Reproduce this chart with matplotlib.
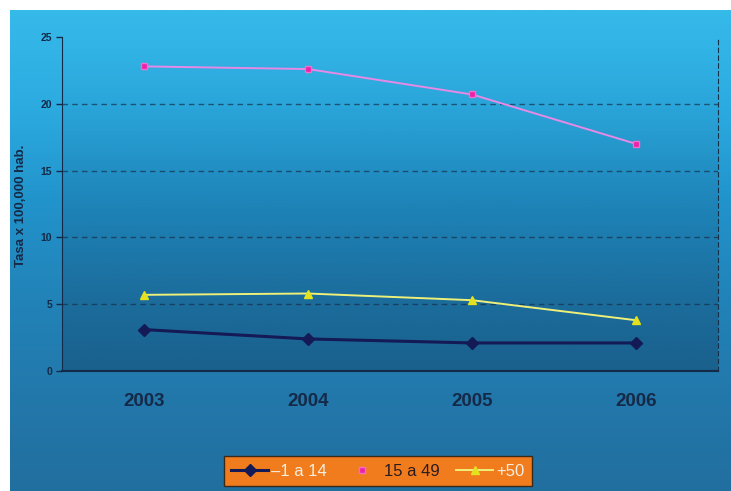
import matplotlib.pyplot as plt
import numpy as np
from matplotlib.colors import LinearSegmentedColormap, to_rgb
from matplotlib.lines import Line2D

years = ['2003', '2004', '2005', '2006']
menores_14 = [3.1, 2.4, 2.1, 2.1]
de_15_a_49 = [22.8, 22.6, 20.7, 17.0]
mayores_50 = [5.7, 5.8, 5.3, 3.8]

plt.rcParams['font.family'] = ['Liberation Sans', 'DejaVu Sans']

W, H = 731, 491
fig = plt.figure(figsize=(W / 100, H / 100), dpi=100)
fig.patch.set_facecolor('white')

# background panel with a vertical blue gradient
bg = fig.add_axes([10 / W, 0, 1 - 10 / W, 1 - 10 / H], zorder=0)
bg_cmap = LinearSegmentedColormap.from_list(
    'bg', ['#36baea', '#2cabe0', '#2193cb', '#2183b8', '#2378ab', '#216f9f'])
grad = np.linspace(0, 1, 256).reshape(-1, 1)
bg.imshow(grad, aspect='auto', cmap=bg_cmap, extent=[0, 1, 0, 1], origin='upper')
bg.set_axis_off()

ax = fig.add_axes([62 / W, 1 - 371 / H, (718 - 62) / W, (371 - 37) / H], zorder=1)
ax.set_facecolor('none')

x = np.arange(len(years))

# darker shading inside the plot area, growing towards the bottom
shade = np.zeros((256, 1, 4))
shade[..., :3] = to_rgb('#0f3a5c')
shade[:, 0, 3] = np.linspace(0.0, 0.5, 256) ** 1.3
ax.imshow(shade, aspect='auto', extent=[-0.5, 3.5, 0, 25], origin='upper', zorder=0)

for yv in [5, 10, 15, 20]:
    ax.axhline(yv, color='#16304a', lw=1, ls=(0, (4, 3)), alpha=0.7, zorder=1)

ax.plot(x, menores_14, color='#141a55', lw=2.2, marker='D', ms=6,
        mfc='#141a55', mec='#141a55', zorder=3)
ax.plot(x, de_15_a_49, color='#e68ae6', lw=1.4, marker='s', ms=5,
        mfc='#ee1fa8', mec='#f070c8', zorder=3)
ax.plot(x, mayores_50, color='#eef07a', lw=1.4, marker='^', ms=6,
        mfc='#e4e21e', mec='#e4e21e', zorder=3)

ax.set_xlim(-0.5, 3.5)
ax.set_ylim(0, 25)
ax.set_yticks(range(0, 26, 5))
ax.set_xticks(x)
ax.set_xticklabels(years, fontsize=13.5, color='#152a48', fontweight='bold')
ax.tick_params(axis='x', length=0, pad=16)
ax.tick_params(axis='y', labelsize=7.5, labelcolor='#152a48', colors='#152a48',
               length=4, width=1, pad=3)
for lbl in ax.get_yticklabels():
    lbl.set_fontweight('bold')

ax.spines['top'].set_visible(False)
ax.spines['left'].set_color('#152a48')
ax.spines['bottom'].set_color('#152a48')
ax.spines['bottom'].set_linewidth(1.5)
ax.spines['right'].set_color('#16304a')
ax.spines['right'].set_linestyle((0, (4, 3)))

fig.text(21 / W, 1 - 206 / H, 'Tasa x 100,000 hab.', rotation=90, fontsize=9.5,
         fontweight='bold', color='#152a48', ha='center', va='center')

handles = [
    Line2D([], [], color='#141a55', lw=2.2, marker='D', ms=6),
    Line2D([], [], color='#e68ae6', lw=0, marker='s', ms=5, mfc='#ee1fa8', mec='#f070c8'),
    Line2D([], [], color='#eef07a', lw=1.4, marker='^', ms=6, mfc='#e4e21e', mec='#e4e21e'),
]
leg = fig.legend(handles, ['\u20131 a 14', '15 a 49', '+50'], loc='center',
                 bbox_to_anchor=(378 / W, 1 - 471 / H), ncol=3, fontsize=12,
                 frameon=True, fancybox=False, handlelength=2.2, handletextpad=0.2,
                 columnspacing=1.0, borderpad=0.45)
leg.get_frame().set_facecolor('#f07c1e')
leg.get_frame().set_edgecolor('#3a2a1a')
leg.get_frame().set_alpha(1)
for t, c in zip(leg.get_texts(), ['#f4eee0', '#2a1c20', '#f4eee0']):
    t.set_color(c)

fig.savefig('out.png', dpi=100)
